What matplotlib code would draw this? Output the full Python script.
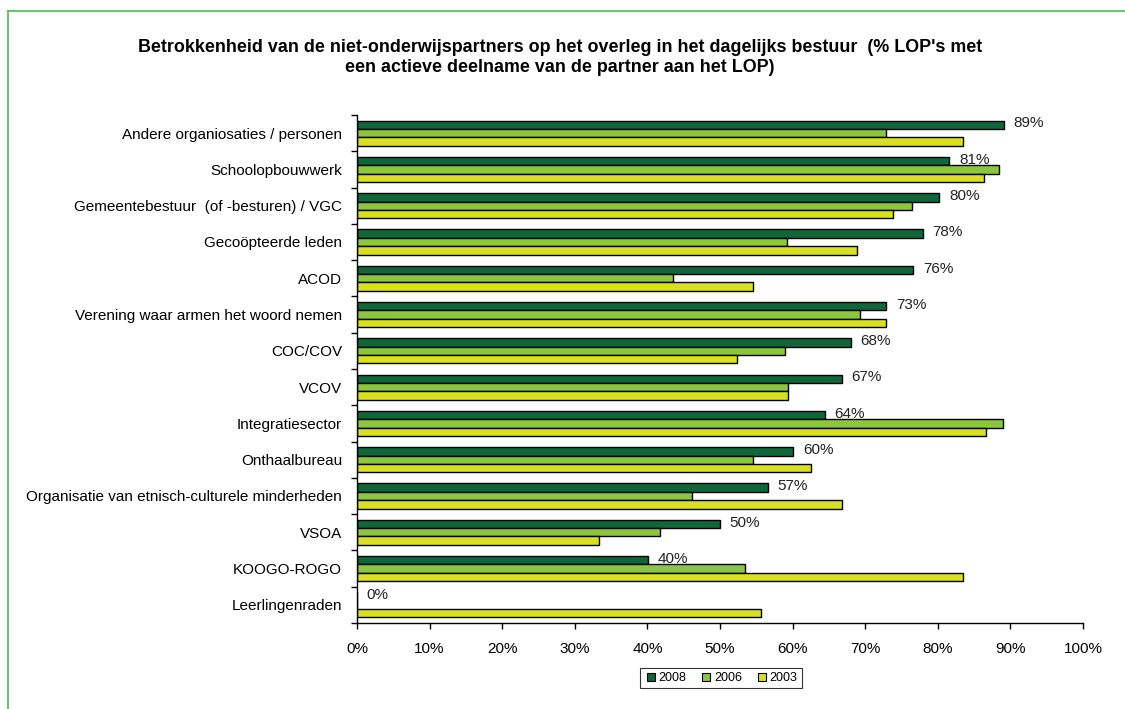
import matplotlib
matplotlib.use("Agg")
import matplotlib.pyplot as plt
from matplotlib.ticker import FixedLocator, PercentFormatter, NullFormatter
from matplotlib.lines import Line2D
import numpy as np

plt.rcParams['font.family'] = ['Liberation Sans', 'DejaVu Sans']

categories = [
    "Andere organiosaties / personen",
    "Schoolopbouwwerk",
    "Gemeentebestuur  (of -besturen) / VGC",
    "Gecoöpteerde leden",
    "ACOD",
    "Verening waar armen het woord nemen",
    "COC/COV",
    "VCOV",
    "Integratiesector",
    "Onthaalbureau",
    "Organisatie van etnisch-culturele minderheden",
    "VSOA",
    "KOOGO-ROGO",
    "Leerlingenraden",
]
years = ["2008", "2006", "2003"]
v2008 = [89.1, 81.6, 80.2, 77.9, 76.6, 72.9, 68.0, 66.8, 64.4, 60.1, 56.6, 50.0, 40.1, 0.0]
v2006 = [72.8, 88.4, 76.4, 59.2, 43.5, 69.3, 58.9, 59.3, 89.0, 54.6, 46.2, 41.7, 53.4, 0.0]
v2003 = [83.5, 86.4, 73.8, 68.9, 54.6, 72.9, 52.4, 59.3, 86.6, 62.6, 66.8, 33.4, 83.5, 55.6]
labels2008 = ["89%", "81%", "80%", "78%", "76%", "73%", "68%", "67%", "64%", "60%", "57%", "50%", "40%", "0%"]
colors = ["#106638", "#8CC63E", "#D8E021"]

fig = plt.figure(figsize=(11.25, 7.09), dpi=100)
ax = fig.add_axes([357/1125, 1 - 623/709, 726/1125, 508/709])

n = len(categories)
pos = np.arange(n)
h = 0.23
series = [v2008, v2006, v2003]
for i, (vals, col, yr) in enumerate(zip(series, colors, years)):
    ax.barh(pos + (i - 1) * h, vals, height=h, color=col, edgecolor="black",
            linewidth=1.0, label=yr)

for p, v, lab in zip(pos, v2008, labels2008):
    ax.annotate(lab, xy=(v, p - h), xytext=(7, 1), textcoords="offset points",
                ha="left", va="center", fontsize=11, color="#222222")

ax.set_xlim(0, 100)
ax.set_ylim(n - 0.5, -0.5)
ax.xaxis.set_major_locator(FixedLocator(np.arange(0, 101, 10)))
ax.xaxis.set_major_formatter(PercentFormatter(decimals=0))
ax.yaxis.set_major_locator(FixedLocator(np.arange(-0.5, n, 1.0)))
ax.yaxis.set_major_formatter(NullFormatter())
ax.yaxis.set_minor_locator(FixedLocator(pos))
ax.set_yticklabels(categories, minor=True)
ax.tick_params(axis="y", which="minor", length=0, pad=10.8, labelsize=11)
ax.tick_params(axis="y", which="major", length=4, direction="out", width=1)
ax.tick_params(axis="x", length=4, direction="out", width=1, pad=9.5, labelsize=11)
for s in ["top", "right"]:
    ax.spines[s].set_visible(False)
for s in ["left", "bottom"]:
    ax.spines[s].set_linewidth(1)

fig.text(560/1125, 1 - 47/709,
         "Betrokkenheid van de niet-onderwijspartners op het overleg in het dagelijks bestuur  (% LOP's met",
         ha="center", va="center", fontsize=12.9, fontweight="bold")
fig.text(560/1125, 1 - 68/709,
         "een actieve deelname van de partner aan het LOP)",
         ha="center", va="center", fontsize=12.9, fontweight="bold")

handles = [Line2D([0], [0], marker="s", linestyle="none", markersize=6,
                  markerfacecolor=c, markeredgecolor="black", markeredgewidth=0.8)
           for c in colors]
leg = fig.legend(handles, years, loc="center", bbox_to_anchor=(721/1125, 1 - 678/709),
                 ncol=3, fontsize=9, frameon=True, fancybox=False, handletextpad=0.1,
                 columnspacing=1.1, handlelength=1.0, borderpad=0.35, edgecolor="black")
leg.get_frame().set_linewidth(0.8)

# outer frame (partially visible)
fig.add_artist(Line2D([7.5/1125, 1.0], [1 - 10.5/709, 1 - 10.5/709], color="#4DBB4D", lw=1.2))
fig.add_artist(Line2D([7.5/1125, 7.5/1125], [0, 1 - 10.5/709], color="#4DBB4D", lw=1.2))

fig.savefig("out.png", dpi=100)
